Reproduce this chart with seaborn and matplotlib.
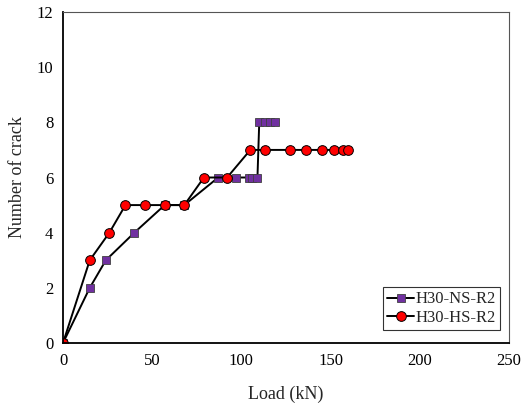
import pandas as pd
import matplotlib
matplotlib.use("Agg")
import matplotlib.pyplot as plt
import seaborn as sns

# Load (kN) and number of cracks
ns_load = [0, 15, 24, 40, 57, 68, 87, 97, 104, 106, 109, 110, 113, 116, 119]
ns_crack = [0, 2, 3, 4, 5, 5, 6, 6, 6, 6, 6, 8, 8, 8, 8]
hs_load = [0, 15, 26, 35, 46, 57, 68, 79, 92, 105, 113, 127, 136, 145, 152, 157, 160]
hs_crack = [0, 3, 4, 5, 5, 5, 5, 6, 6, 7, 7, 7, 7, 7, 7, 7, 7]

ns = pd.DataFrame({"Load": ns_load, "Crack": ns_crack})
hs = pd.DataFrame({"Load": hs_load, "Crack": hs_crack})

sns.set_style("white")
plt.rcParams['font.family'] = ['Liberation Serif', 'DejaVu Serif']

fig = plt.figure(figsize=(5.22, 4.07), dpi=100)
ax = fig.add_axes([63 / 522, 1 - 343 / 407, 446 / 522, 331 / 407])

sns.lineplot(data=ns, x="Load", y="Crack", ax=ax, color="black", lw=1.4,
             marker="s", markersize=5.5, markerfacecolor="#7030a0",
             markeredgecolor="#404040", markeredgewidth=0.6,
             label="H30-NS-R2", sort=False, estimator=None)
sns.lineplot(data=hs, x="Load", y="Crack", ax=ax, color="black", lw=1.4,
             marker="o", markersize=7, markerfacecolor="red",
             markeredgecolor="black", markeredgewidth=0.7,
             label="H30-HS-R2", sort=False, estimator=None)

ax.set_xlim(0, 250)
ax.set_ylim(0, 12)
ax.set_xticks(range(0, 251, 50))
ax.set_yticks(range(0, 13, 2))
ax.tick_params(direction="in", length=4, width=1, labelsize=12, colors="black", pad=7)
ax.set_xlabel("Load (kN)", fontsize=13, labelpad=12)
ax.set_ylabel("Number of crack", fontsize=13, labelpad=8)

for side in ["left", "bottom"]:
    ax.spines[side].set_color("black")
    ax.spines[side].set_linewidth(1.3)
for side in ["top", "right"]:
    ax.spines[side].set_color("#555555")
    ax.spines[side].set_linewidth(0.8)

leg = ax.legend(loc="lower right", bbox_to_anchor=(0.98, 0.039), borderaxespad=0,
                fontsize=12, frameon=True, fancybox=False, edgecolor="black",
                handlelength=1.6, borderpad=0.25, labelspacing=0.15,
                handletextpad=0.1)
leg.get_frame().set_linewidth(0.8)

fig.savefig("out.png", dpi=100)
